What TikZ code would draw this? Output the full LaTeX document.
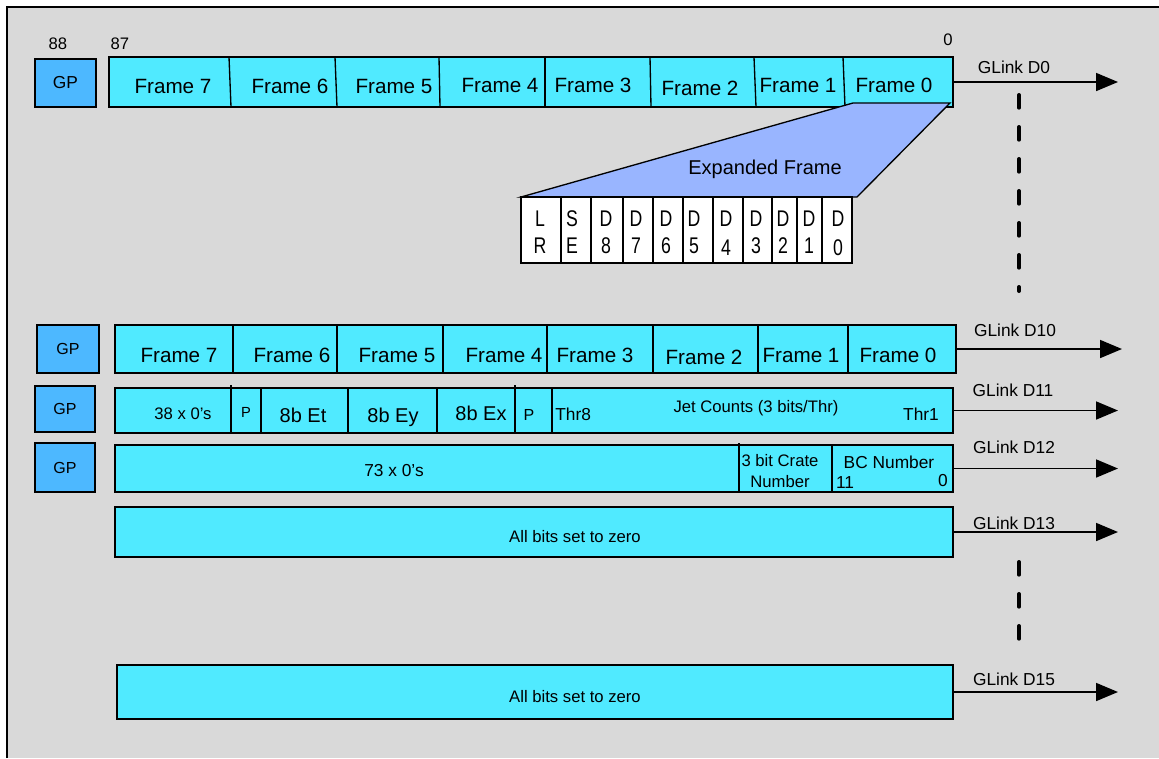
\documentclass[tikz,border=0pt]{standalone}
\usepackage{fontspec}
\setmainfont{Liberation Sans}
\newfontfamily\bitfont{Liberation Sans}[FakeStretch=0.78]
\usetikzlibrary{shapes, arrows.meta, positioning, fit}

\definecolor{panelgrey}{RGB}{217,217,217}
\definecolor{framecyan}{RGB}{80,234,255}
\definecolor{gpblue}{RGB}{77,184,255}
\definecolor{expandblue}{RGB}{153,181,255}

\tikzset{
    rowbox/.style={draw, line width=1.2pt, fill=framecyan, inner sep=0pt},
    gpbox/.style={draw, line width=1.2pt, fill=gpblue, inner sep=0pt},
    gptext/.style={inner sep=0pt, font=\fontsize{12}{12}\selectfont},
    divider/.style={line width=1pt},
    bitcell/.style={draw, line width=1pt, fill=white},
    bittext/.style={align=center, inner sep=0pt, font=\bitfont\fontsize{17}{20.25}\selectfont},
    glink/.style={line width=1.3pt, -{Triangle[length=16.5pt,width=13.5pt]}},
    gap/.style={line width=3pt, line cap=round, dash pattern=on 9.5pt off 14.5pt},
    lbl/.style={anchor=base, inner sep=0pt, font=\fontsize{#1}{#1}\selectfont},
    lbl/.default=13,
}

\begin{document}
\begin{tikzpicture}[x=0.75pt,y=0.75pt,yscale=-1,xscale=1]
    \useasboundingbox (0,0) rectangle (1159,758);

    % Panel
    \fill [white] (0,0) rectangle (1159,758);
    \fill [panelgrey] (7,7) rectangle (1159,758);
    \draw [line width=1.5pt] (7,758) -- (7,7) -- (1159,7);

    % Dashed separators between links
    \draw [gap] (1019,95) -- (1019,291);
    \draw [gap] (1019,562) -- (1019,656);

    %%% GLink D0
    \node [gpbox, fit={(35,59) (96,107)}] (gp0) {};
    \draw (gp0.center) node [gptext, font=\fontsize{13}{13}\selectfont] (gp0t) {GP};
    \node [rowbox, fit={(109,57) (953,107)}] (link0) {};
    \draw [divider] (229,57) -- (231,107);
    \draw [divider] (335,57) -- (337,107);
    \draw [divider] (439,57) -- (440,107);
    \draw [divider] (545,57) -- (545,107);
    \draw [divider] (650,57) -- (651,107);
    \draw [divider] (754,57) -- (756,107);
    \draw [divider] (843,57) -- (845,107);
    % Bit numbers
    \draw (58,49) node [lbl=12.5] (b88) {88};
    \draw (120,49) node [lbl=12.5] (b87) {87};
    \draw (948,45) node [lbl=12.5] (b00) {0};
    % Frames
    \draw (173,93) node [lbl=15.5] (a7) {Frame 7};
    \draw (290,93) node [lbl=15.5] (a6) {Frame 6};
    \draw (394,93) node [lbl=15.5] (a5) {Frame 5};
    \draw (500,92) node [lbl=15.5] (a4) {Frame 4};
    \draw (593,92) node [lbl=15.5] (a3) {Frame 3};
    \draw (700,95) node [lbl=15.5] (a2) {Frame 2};
    \draw (798,92) node [lbl=15.5] (a1) {Frame 1};
    \draw (894,92) node [lbl=15.5] (a0) {Frame 0};
    % Connection
    \coordinate (out0) at (1118,82);
    \draw [glink] (link0.east) -- (out0);
    \draw (1014,73) node [lbl] (g0) {GLink D0};

    %%% Expanded frame
    \draw [line width=1pt, fill=expandblue] (853,103) -- (950,103) -- (857,197) -- (521,197) -- cycle;
    \draw (765,174) node [lbl=15] (expd) {Expanded Frame};
    \draw [bitcell] (521,197) rectangle (561,263);
    \draw [bitcell] (561,197) rectangle (591,263);
    \draw [bitcell] (591,197) rectangle (623,263);
    \draw [bitcell] (623,197) rectangle (653,263);
    \draw [bitcell] (653,197) rectangle (683,263);
    \draw [bitcell] (683,197) rectangle (713,263);
    \draw [bitcell] (713,197) rectangle (743,263);
    \draw [bitcell] (743,197) rectangle (772,263);
    \draw [bitcell] (772,197) rectangle (797,263);
    \draw [bitcell] (797,197) rectangle (822,263);
    \draw [bitcell] (822,197) rectangle (852,263);
    \draw (540,232) node [bittext] (lr) {L\\R};
    \draw (572,232) node [bittext] (se) {S\\E};
    \draw (606,232) node [bittext] (d8) {D\\8};
    \draw (636,232) node [bittext] (d7) {D\\7};
    \draw (666,232) node [bittext] (d6) {D\\6};
    \draw (694,232) node [bittext] (d5) {D\\5};
    \draw (726,233) node [bittext, font=\bitfont\fontsize{17}{21.75}\selectfont] (d4) {D\\4};
    \draw (756,232) node [bittext] (d3) {D\\3};
    \draw (783,232) node [bittext] (d2) {D\\2};
    \draw (809,232) node [bittext] (d1) {D\\1};
    \draw (838,233) node [bittext, font=\bitfont\fontsize{17}{21.75}\selectfont] (d0) {D\\0};

    %%% GLink D10
    \node [gpbox, fit={(37,325) (99,373)}] (gp10) {};
    \draw (gp10.center) node [gptext] (gp10t) {GP};
    \node [rowbox, fit={(115,325) (956,373)}] (link10) {};
    \draw [divider] (233,325) -- (233,373);
    \draw [divider] (337,325) -- (337,373);
    \draw [divider] (443,325) -- (443,373);
    \draw [divider] (547,325) -- (547,373);
    \draw [divider] (653,325) -- (653,373);
    \draw [divider] (758,325) -- (758,373);
    \draw [divider] (848,325) -- (848,373);
    \draw (179,362) node [lbl=15.5] (b7) {Frame 7};
    \draw (292,362) node [lbl=15.5] (b6) {Frame 6};
    \draw (397,362) node [lbl=15.5] (b5) {Frame 5};
    \draw (504,362) node [lbl=15.5] (b4) {Frame 4};
    \draw (595,362) node [lbl=15.5] (b3) {Frame 3};
    \draw (704,364) node [lbl=15.5] (b2) {Frame 2};
    \draw (801,362) node [lbl=15.5] (b1) {Frame 1};
    \draw (898,362) node [lbl=15.5] (b0) {Frame 0};
    \coordinate (out10) at (1122,349);
    \draw [glink] (link10.east) -- (out10);
    \draw (1015,336) node [lbl] (g10) {GLink D10};

    %%% GLink D11
    \node [gpbox, fit={(35,386) (95,432)}] (gp11) {};
    \draw (gp11.center) node [gptext] (gp11t) {GP};
    \node [rowbox, fit={(115,388) (953,433)}] (link11) {};
    \draw [divider] (231,385) -- (231,433);
    \draw [divider] (261,388) -- (261,433);
    \draw [divider] (348,388) -- (348,433);
    \draw [divider] (437,388) -- (437,433);
    \draw [divider] (515,385) -- (515,433);
    \draw [divider] (552,388) -- (552,433);
    \draw (183,419) node [lbl=12.5] (zeros38) {38 x 0's};
    \draw (246,417) node [lbl=11] (par1) {P};
    \draw (303,422) node [lbl=15] (et) {8b Et};
    \draw (393,422) node [lbl=15] (ey) {8b Ey};
    \draw (481,420) node [lbl=15] (ex) {8b Ex};
    \draw (529,420) node [lbl=12] (par2) {P};
    \draw (555,420) node [lbl=13, anchor=base west] (thr8) {Thr8};
    \draw (756,412) node [lbl=12.5] (jets) {Jet Counts (3 bits/Thr)};
    \draw (921,420) node [lbl=13] (thr1) {Thr1};
    \coordinate (out11) at (1118,410.5);
    \draw [glink] (link11.east) -- (out11);
    \draw (1013,396) node [lbl] (g11) {GLink D11};

    %%% GLink D12
    \node [gpbox, fit={(35,443) (95,492)}] (gp12) {};
    \draw (gp12.center) node [gptext] (gp12t) {GP};
    \node [rowbox, fit={(115,445) (953,492)}] (link12) {};
    \draw [divider] (739,443) -- (739,492);
    \draw [divider] (832,445) -- (832,492);
    \draw (394,476) node [lbl=13] (zeros73) {73 x 0's};
    \draw (780,471) node [align=center, inner sep=0pt, font=\fontsize{12.5}{15.75}\selectfont] (crate) {3 bit Crate\\Number};
    \draw (889,468) node [lbl] (bcn) {BC Number};
    \draw (845,488) node [lbl] (bc11) {11};
    \draw (943,486) node [lbl] (bc0) {0};
    \coordinate (out12) at (1118,468.5);
    \draw [glink] (link12.east) -- (out12);
    \draw (1014,453) node [lbl] (g12) {GLink D12};

    %%% GLink D13
    \node [rowbox, fit={(115,507) (953,557)}] (link13) {};
    \draw (575,542) node [lbl=12.5] (z13) {All bits set to zero};
    \coordinate (out13) at (1118,532);
    \draw [glink] (link13.east) -- (out13);
    \draw (1014,529) node [lbl] (g13) {GLink D13};

    %%% GLink D15
    \node [rowbox, fit={(117,665) (953,719)}] (link15) {};
    \draw (575,702) node [lbl=12.5] (z15) {All bits set to zero};
    \coordinate (out15) at (1118,692);
    \draw [glink] (link15.east) -- (out15);
    \draw (1014,685) node [lbl] (g15) {GLink D15};

\end{tikzpicture}
\end{document}
